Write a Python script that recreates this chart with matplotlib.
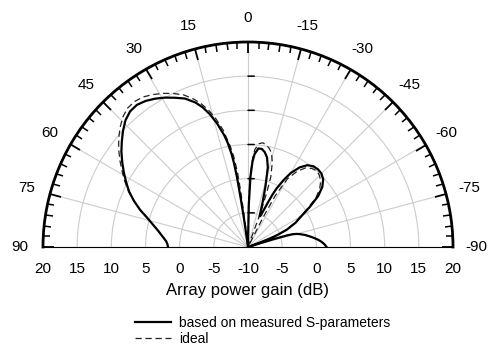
import numpy as np
import matplotlib
matplotlib.use('Agg')
import matplotlib.pyplot as plt

plt.rcParams['font.family'] = ['Liberation Sans', 'DejaVu Sans']

# steering angle (deg) and array power gain (dB), measured S-parameters
meas_ang = [-90, -88, -86, -84, -82, -80, -78, -76, -75, -74, -73.5, -73, -72, -71,
            -70, -69, -68, -66, -63, -60, -57, -54, -51, -48, -45, -42, -39, -36,
            -33, -30, -28, -26, -25, -24, -23, -22, -21, -20, -18, -16, -14, -12,
            -10, -8, -6, -4, -3, -2, -1, 0, 2, 4, 6, 7, 7.5, 8, 8.5, 9, 9.5, 10,
            11, 12, 14, 16, 18, 20, 23, 26, 29, 32, 35, 38, 41, 44, 47, 50, 53,
            56, 59, 62, 65, 68, 71, 74, 77, 80, 83, 86, 88, 90]
meas_gain = [1.5, 1.2, 0.8, 0.3, -0.3, -0.9, -1.5, -2.2, -2.6, -3.2, -4.0, -6.0, -10, -10,
             -9, -7, -5.5, -3.8, -2.2, -1.0, 0.8, 2.7, 4.0, 4.8, 5.2, 5.3, 5.2, 4.8,
             3.9, 2.5, 1.1, -0.5, -1.6, -3.0, -4.2, -5.0, -5.2, -4.8, -3.0, -0.7, 2.0, 3.4,
             4.1, 4.5, 4.5, 3.6, 2.5, 0.3, -4.0, -10, -10, -10, -10, -10, -9, -6.5, -3.0, 0.5, 2.5, 3.8,
             5.5, 6.7, 8.6, 10.2, 11.5, 12.5, 13.6, 14.3, 15.0, 15.6, 16.1, 16.4, 16.3, 15.8, 15.0, 14.1, 13.2,
             12.2, 11.2, 10.2, 9.2, 8.0, 6.7, 5.3, 4.2, 3.3, 2.6, 2.0, 1.8, 1.7]

# ideal array
ideal_ang = [-90, -88, -86, -84, -82, -80, -78, -76, -75, -74, -73.5, -73, -72, -71,
             -70, -69, -68, -66, -63, -60, -57, -54, -51, -48, -45, -42, -39, -36,
             -33, -30, -28, -27, -26, -24, -22, -21, -20, -19, -18, -16, -14, -12,
             -10, -8, -6, -4, -3, -2, -1, 0, 2, 4, 6, 6.5, 7, 7.5, 8, 9, 10,
             12, 14, 16, 18, 20, 23, 26, 29, 32, 35, 38, 41, 44, 47, 50, 53,
             56, 59, 62, 65, 68, 71, 74, 77, 80, 83, 86, 88, 90]
ideal_gain = [1.5, 1.2, 0.8, 0.3, -0.3, -0.9, -1.5, -2.2, -2.6, -3.2, -4.0, -6.0, -10, -10,
              -10, -7.5, -5.8, -4.0, -2.4, -1.2, 0.5, 2.3, 3.5, 4.3, 4.8, 5.0, 4.8, 4.3,
              3.2, 1.5, -1.5, -5.0, -10, -10, -10, -10, -4.5, -1.5, 0.8, 2.9, 4.2, 4.8,
              5.2, 5.4, 5.2, 4.3, 3.0, 0.8, -3.0, -10, -10, -10, -10, -8, -5.0, -1.5, 1.0, 3.5, 5.0,
              7.5, 9.3, 10.8, 12.0, 13.0, 14.2, 15.0, 15.7, 16.3, 16.8, 17.0, 16.9, 16.4, 15.6, 14.7, 13.7,
              12.6, 11.5, 10.4, 9.3, 8.0, 6.7, 5.3, 4.2, 3.3, 2.6, 2.0, 1.8, 1.7]

r_min, r_max = -10, 20
angle_ticks = list(range(-90, 91, 15))
gain_ticks = [-5, 0, 5, 10, 15, 20]

fig = plt.figure(figsize=(4.95, 3.58), dpi=100)
R = 205
cx, cy = 248, 358 - 247
# the half disc sits in the middle of a square box
ax = fig.add_axes([(cx - R) / 495, (cy - R / 2) / 358, 2 * R / 495, 2 * R / 358], projection='polar')

ax.set_theta_zero_location('N')
ax.set_theta_direction(1)
ax.set_thetamin(-90)
ax.set_thetamax(90)
ax.set_rlim(r_min, r_max)

ax.plot(np.deg2rad(meas_ang), meas_gain, color='black', lw=1.6, label='based on measured S-parameters', zorder=4)
ax.plot(np.deg2rad(ideal_ang), ideal_gain, color='#222222', lw=0.9, ls=(0, (5, 3)), label='ideal', zorder=3)

# angle ticks on the outer arc
ax.set_xticks(np.deg2rad(angle_ticks))
ax.set_xticklabels([str(a) for a in angle_ticks], fontsize=11)
ax.set_xticks(np.deg2rad(np.arange(-90, 91, 3)), minor=True)
ax.tick_params(axis='x', which='both', bottom=False, top=True, labelbottom=True, labeltop=False)
ax.tick_params(axis='x', which='major', direction='in', length=8, width=1.3, pad=10)
ax.tick_params(axis='x', which='minor', direction='in', length=5, width=1.1)

# gain rings
ax.set_yticks(gain_ticks)
ax.set_yticklabels([])
ax.grid(True, color='#cccccc', lw=0.8)
ax.xaxis.grid(False, which='minor')
ax.spines['polar'].set_linewidth(2.0)

# short ticks on the 0 deg line where it crosses each ring
for g in gain_ticks[:-1]:
    ax.annotate('', xy=(0, g), xytext=(4.5, 0), textcoords='offset points',
                arrowprops=dict(arrowstyle='-', color='black', lw=1.1,
                                shrinkA=0, shrinkB=0), zorder=5)

# gain scale along the baseline
for g in [20, 15, 10, 5, 0, -5]:
    for side in (90, -90):
        ax.annotate(str(g), (np.deg2rad(side), g), xytext=(0, -10.5), textcoords='offset points',
                    ha='center', va='top', fontsize=11, annotation_clip=False)
ax.annotate('-10', (0, r_min), xytext=(0, -10.5), textcoords='offset points',
            ha='center', va='top', fontsize=11, annotation_clip=False)

fig.text(cx / 495, 1 - 290 / 358, 'Array power gain (dB)', ha='center', va='center', fontsize=12)

fig.legend(loc='upper left', bbox_to_anchor=(128 / 495, 1 - 309 / 358), frameon=False,
           fontsize=10, handlelength=2.6, handletextpad=0.6, labelspacing=0.15, borderpad=0)

fig.savefig('out.png', dpi=100)
